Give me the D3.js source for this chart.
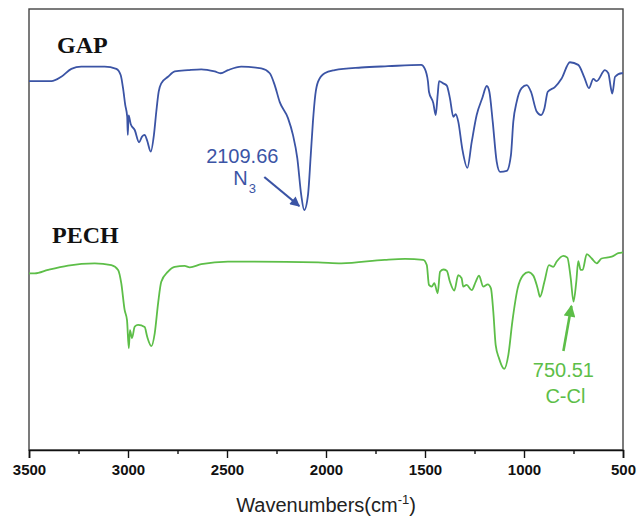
<!DOCTYPE html>
<html>
<head>
<meta charset="utf-8">
<script src="https://cdn.jsdelivr.net/npm/d3@7/dist/d3.min.js"></script>
<style>
  body { margin: 0; background: #fff; }
  svg { display: block; }
</style>
</head>
<body>
<svg id="chart" width="638" height="519"></svg>
<script>
// wavenumber (cm-1), transmittance (a.u.)
var gapWave = [3500, 3387, 3337, 3286, 3236, 3118, 3059, 3037, 3025, 3014, 3004, 3001, 2997, 2986, 2966, 2944, 2929, 2916, 2904, 2885, 2869, 2857, 2845, 2832, 2798, 2764, 2697, 2630, 2562, 2532, 2495, 2428, 2327, 2284, 2259, 2234, 2192, 2167, 2145, 2125, 2110, 2091, 2077, 2066, 2054, 2040, 2007, 1956, 1822, 1687, 1519, 1502, 1485, 1480, 1458, 1446, 1436, 1429, 1408, 1390, 1374, 1357, 1345, 1332, 1312, 1286, 1264, 1239, 1211, 1188, 1175, 1158, 1138, 1121, 1087, 1066, 1054, 1037, 1012, 986, 965, 936, 914, 897, 880, 843, 810, 768, 726, 695, 672, 650, 633, 591, 574, 561, 554, 540, 507, 500];
var gapT = [83.6, 83.6, 84.6, 86.4, 86.9, 86.9, 86.4, 85.0, 82.0, 78.2, 75.5, 71.4, 75.8, 73.8, 72.5, 69.7, 71.0, 71.4, 70.2, 67.6, 71.4, 76.7, 81.2, 83.1, 84.6, 85.8, 86.1, 86.3, 85.8, 85.4, 86.1, 86.9, 86.5, 85.4, 82.7, 78.9, 75.2, 71.4, 66.1, 57.7, 54.3, 57.7, 66.8, 74.4, 80.5, 83.5, 85.4, 86.1, 86.7, 87.0, 87.3, 86.5, 83.5, 81.2, 78.6, 75.9, 80.5, 83.6, 83.1, 82.6, 79.7, 75.5, 76.1, 74.4, 68.3, 63.9, 69.8, 75.9, 79.7, 82.5, 81.2, 74.4, 65.3, 63.0, 63.2, 66.8, 74.4, 78.9, 82.0, 82.7, 81.2, 76.7, 75.9, 77.4, 81.2, 82.3, 84.2, 87.9, 87.3, 84.4, 82.0, 84.1, 83.6, 86.1, 85.4, 82.0, 80.8, 84.6, 85.4, 85.4];

var pechWave = [3500, 3471, 3404, 3303, 3168, 3084, 3050, 3034, 3017, 3005, 2996, 2990, 2980, 2966, 2949, 2916, 2903, 2882, 2865, 2848, 2832, 2798, 2764, 2714, 2688, 2630, 2495, 2040, 1923, 1704, 1601, 1509, 1491, 1480, 1466, 1453, 1436, 1424, 1408, 1390, 1374, 1352, 1332, 1315, 1307, 1290, 1264, 1244, 1227, 1206, 1183, 1167, 1155, 1143, 1126, 1100, 1079, 1059, 1032, 1004, 978, 953, 931, 919, 897, 874, 852, 835, 801, 781, 764, 750, 736, 726, 714, 704, 683, 658, 633, 608, 557, 524, 500];
var pechT = [39.9, 39.9, 40.7, 41.7, 42.2, 41.8, 40.7, 37.7, 31.6, 29.3, 22.9, 27.0, 25.2, 27.8, 28.2, 27.7, 25.5, 23.4, 26.3, 33.1, 38.0, 40.3, 41.4, 41.6, 41.3, 42.0, 42.6, 42.4, 42.2, 43.0, 43.2, 43.0, 41.8, 37.3, 36.9, 37.7, 35.4, 40.3, 40.8, 40.5, 38.0, 36.0, 39.5, 38.8, 36.9, 37.3, 36.1, 38.0, 39.4, 36.9, 37.4, 36.5, 31.2, 23.6, 20.6, 18.2, 21.4, 28.9, 36.5, 39.5, 40.2, 39.4, 36.5, 34.6, 38.0, 41.8, 41.4, 42.6, 43.9, 43.5, 38.8, 33.5, 38.0, 42.7, 40.7, 40.7, 44.3, 43.3, 42.2, 43.3, 43.7, 44.5, 44.7];

var majorTicks = [3500, 3000, 2500, 2000, 1500, 1000, 500];
var minorTicks = [3250, 2750, 2250, 1750, 1250, 750];

var BLUE = '#3b54a5', GREEN = '#5dbe48';

var svg = d3.select('#chart');
var m = { left: 29, right: 623, top: 9, bottom: 450 };

var x = d3.scaleLinear().domain([3500, 500]).range([m.left, m.right]);
var y = d3.scaleLinear().domain([0, 100]).range([449, 9]);

svg.append('rect')
  .attr('x', m.left).attr('y', m.top)
  .attr('width', m.right - m.left).attr('height', m.bottom - m.top)
  .attr('fill', 'none').attr('stroke', '#444').attr('stroke-width', 1.4);

var line = d3.line()
  .x(function (d) { return x(d[0]); })
  .y(function (d) { return y(d[1]); })
  .curve(d3.curveMonotoneX);

function series(w, t) { return w.map(function (v, i) { return [v, t[i]]; }); }

svg.append('path').datum(series(gapWave, gapT))
  .attr('d', line).attr('fill', 'none').attr('stroke', BLUE).attr('stroke-width', 1.8);
svg.append('path').datum(series(pechWave, pechT))
  .attr('d', line).attr('fill', 'none').attr('stroke', GREEN).attr('stroke-width', 1.8);

// x axis
var ax = svg.append('g').attr('transform', 'translate(0,' + m.bottom + ')')
  .call(d3.axisBottom(x).tickValues(majorTicks).tickSize(8).tickPadding(6).tickFormat(d3.format('d')));
ax.select('.domain').attr('stroke', '#111').attr('stroke-width', 1.6);
ax.selectAll('.tick line').attr('stroke', '#111').attr('stroke-width', 1.4);
ax.selectAll('.tick text').attr('font-family', 'Liberation Sans, Arial, sans-serif')
  .attr('font-size', 15).attr('font-weight', 'bold').attr('fill', '#111');

svg.append('g').attr('transform', 'translate(0,' + m.bottom + ')')
  .call(d3.axisBottom(x).tickValues(minorTicks).tickSize(4).tickFormat(''))
  .call(function (g) {
    g.select('.domain').remove();
    g.selectAll('.tick line').attr('stroke', '#111').attr('stroke-width', 1.4);
  });

var title = svg.append('text')
  .attr('x', (m.left + m.right) / 2).attr('y', 512)
  .attr('text-anchor', 'middle')
  .attr('font-family', 'Liberation Sans, Arial, sans-serif')
  .attr('font-size', 20).attr('fill', '#222');
title.append('tspan').text('Wavenumbers(cm');
title.append('tspan').attr('font-size', 13).attr('dy', -8).text('-1');
title.append('tspan').attr('dy', 8).text(')');

// series labels
svg.append('text').attr('x', 57).attr('y', 53)
  .attr('font-family', 'Liberation Serif, Times New Roman, serif')
  .attr('font-weight', 'bold').attr('font-size', 24).attr('fill', '#111').text('GAP');
svg.append('text').attr('x', 52).attr('y', 243)
  .attr('font-family', 'Liberation Serif, Times New Roman, serif')
  .attr('font-weight', 'bold').attr('font-size', 24).attr('fill', '#111').text('PECH');

// annotations
var defs = svg.append('defs');
function marker(id, color) {
  defs.append('marker').attr('id', id)
    .attr('viewBox', '0 0 10 10').attr('refX', 9).attr('refY', 5)
    .attr('markerWidth', 5).attr('markerHeight', 4.5).attr('orient', 'auto')
    .append('path').attr('d', 'M0,0L10,5L0,10z').attr('fill', color);
}
marker('arrBlue', BLUE);
marker('arrGreen', GREEN);

var gx = x(2109.66);
svg.append('text').attr('x', gx - 62).attr('y', 163).attr('text-anchor', 'middle')
  .attr('font-family', 'Liberation Sans, Arial, sans-serif').attr('font-size', 20)
  .attr('fill', BLUE).text('2109.66');
var n3 = svg.append('text').attr('x', gx - 71).attr('y', 185)
  .attr('font-family', 'Liberation Sans, Arial, sans-serif').attr('font-size', 20)
  .attr('fill', BLUE);
n3.append('tspan').text('N');
n3.append('tspan').attr('font-size', 13).attr('dy', 8).attr('dx', 1).text('3');
svg.append('line').attr('x1', gx - 40).attr('y1', 177).attr('x2', gx - 5).attr('y2', 206)
  .attr('stroke', BLUE).attr('stroke-width', 2.2).attr('marker-end', 'url(#arrBlue)');

var cx = x(750.51);
svg.append('text').attr('x', cx - 10).attr('y', 377).attr('text-anchor', 'middle')
  .attr('font-family', 'Liberation Sans, Arial, sans-serif').attr('font-size', 20)
  .attr('fill', GREEN).text('750.51');
svg.append('text').attr('x', cx - 8).attr('y', 403).attr('text-anchor', 'middle')
  .attr('font-family', 'Liberation Sans, Arial, sans-serif').attr('font-size', 20)
  .attr('fill', GREEN).text('C-Cl');
svg.append('line').attr('x1', cx - 10).attr('y1', 351).attr('x2', cx - 2).attr('y2', 306)
  .attr('stroke', GREEN).attr('stroke-width', 2.6).attr('marker-end', 'url(#arrGreen)');
</script>
</body>
</html>
